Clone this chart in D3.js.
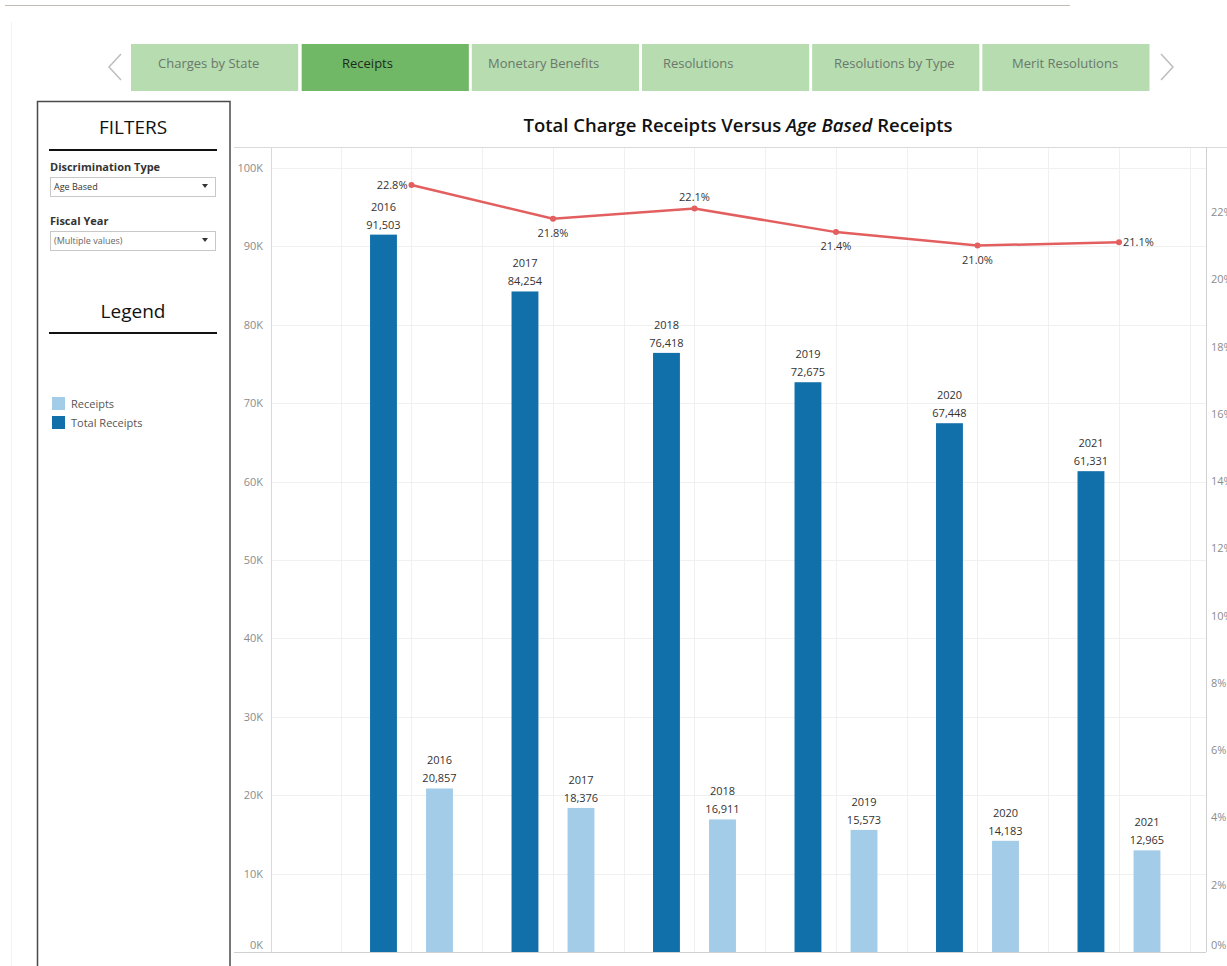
<!DOCTYPE html>
<html><head><meta charset="utf-8">
<script src="https://cdn.jsdelivr.net/npm/d3@7"></script>
<style>
html,body{margin:0;padding:0;background:#fff;}
svg{display:block;font-family:"Open Sans","Noto Sans",sans-serif;}
</style></head>
<body><svg id="c" width="1227" height="966"></svg>
<script>
// ---- data ----
const years = [2016, 2017, 2018, 2019, 2020, 2021];
const totalReceipts = [91503, 84254, 76418, 72675, 67448, 61331];
const ageReceipts = [20857, 18376, 16911, 15573, 14183, 12965];
const agePct = [22.8, 21.8, 22.1, 21.4, 21.0, 21.1];
const pctLabelPos = ["left", "below", "above", "below", "below", "right"];
const leftTicks = [0, 10000, 20000, 30000, 40000, 50000, 60000, 70000, 80000, 90000, 100000];
const rightTicks = [0, 2, 4, 6, 8, 10, 12, 14, 16, 18, 20, 22];
const navTabs = ["Charges by State", "Receipts", "Monetary Benefits", "Resolutions", "Resolutions by Type", "Merit Resolutions"];
const legendItems = [{name: "Receipts", color: "#a3cce9"}, {name: "Total Receipts", color: "#1170aa"}];

const svg = d3.select("#c");
svg.append("rect").attr("width", 1227).attr("height", 966).attr("fill", "#fff");

// top rule + faint left rule
svg.append("line").attr("x1", 5).attr("x2", 1070).attr("y1", 5.5).attr("y2", 5.5).attr("stroke", "#c4bcb4").attr("stroke-width", 1.2);
svg.append("line").attr("x1", 11.5).attr("x2", 11.5).attr("y1", 22).attr("y2", 966).attr("stroke", "#f2f2f2");

// ---- nav tabs ----
const navX = d3.scaleBand().domain(navTabs).range([130, 1151]).paddingInner(0.0);
const navTextX = [158, 342, 488, 663, 834, 1012];
navTabs.forEach((t, i) => {
  const x0 = navX(t) + (i === 0 ? 1 : 1.5);
  svg.append("rect").attr("x", x0).attr("y", 44).attr("width", navX.bandwidth() - 3).attr("height", 47)
    .attr("fill", t === "Receipts" ? "#70b865" : "#b6dcb0");
  svg.append("text").attr("x", navTextX[i]).attr("y", 68).attr("font-size", 13)
    .attr("font-family", "'Liberation Sans Narrow','Open Sans',sans-serif")
    .attr("fill", t === "Receipts" ? "#1e2a1e" : "#6b786b").text(t);
});
svg.append("path").attr("d", "M121,54 L109,67 L121,80").attr("fill", "none").attr("stroke", "#bdbdbd").attr("stroke-width", 1.5);
svg.append("path").attr("d", "M1161,54 L1173,67 L1161,80").attr("fill", "none").attr("stroke", "#bdbdbd").attr("stroke-width", 1.5);

// ---- filter panel ----
svg.append("rect").attr("x", 37.5).attr("y", 101.5).attr("width", 192.5).attr("height", 880).attr("fill", "none").attr("stroke", "#4a4a4a").attr("stroke-width", 1.5);
svg.append("text").attr("x", 133).attr("y", 134).attr("text-anchor", "middle").attr("font-size", 19).attr("fill", "#111").text("FILTERS");
svg.append("line").attr("x1", 49).attr("x2", 217).attr("y1", 150).attr("y2", 150).attr("stroke", "#111").attr("stroke-width", 2);
svg.append("text").attr("x", 50).attr("y", 171).attr("font-size", 11).attr("font-weight", "bold").attr("fill", "#333").text("Discrimination Type");
svg.append("rect").attr("x", 50.5).attr("y", 177.5).attr("width", 165).attr("height", 19).attr("fill", "#fff").attr("stroke", "#c8c8c8");
svg.append("text").attr("x", 54).attr("y", 190).attr("font-size", 9).attr("fill", "#333").text("Age Based");
svg.append("path").attr("d", "M202,184 L208,184 L205,188 Z").attr("fill", "#333");
svg.append("text").attr("x", 50).attr("y", 225).attr("font-size", 11).attr("font-weight", "bold").attr("fill", "#333").text("Fiscal Year");
svg.append("rect").attr("x", 50.5).attr("y", 231.5).attr("width", 165).attr("height", 19).attr("fill", "#fff").attr("stroke", "#c8c8c8");
svg.append("text").attr("x", 54).attr("y", 244).attr("font-size", 9).attr("fill", "#666").text("(Multiple values)");
svg.append("path").attr("d", "M202,238 L208,238 L205,242 Z").attr("fill", "#333");
svg.append("text").attr("x", 133).attr("y", 318).attr("text-anchor", "middle").attr("font-size", 19).attr("fill", "#111").text("Legend");
svg.append("line").attr("x1", 49).attr("x2", 217).attr("y1", 333).attr("y2", 333).attr("stroke", "#111").attr("stroke-width", 2);
legendItems.forEach((d, i) => {
  svg.append("rect").attr("x", 52).attr("y", 397 + i * 19).attr("width", 13).attr("height", 13).attr("fill", d.color);
  svg.append("text").attr("x", 71).attr("y", 408 + i * 19).attr("font-size", 11).attr("fill", "#555").text(d.name);
});

// ---- chart ----
const yTop = 147, yBot = 952, xL = 271, xR = 1206;
const x = d3.scaleLinear().domain([2015, 2021.615]).range([270, xR]);
const y = d3.scaleLinear().domain([0, 102680]).range([yBot, yTop]);
const yp = d3.scaleLinear().domain([0, 23.93]).range([yBot, yTop]);

svg.append("text").attr("x", 738).attr("y", 132).attr("text-anchor", "middle").attr("font-size", 18.5).attr("font-weight", 600).attr("fill", "#111")
  .call(t => {
    t.append("tspan").text("Total Charge Receipts Versus ");
    t.append("tspan").attr("font-style", "italic").text("Age Based");
    t.append("tspan").text(" Receipts");
  });

// grid
const g = svg.append("g");
g.selectAll(".hg").data(leftTicks.filter(d => d > 0)).join("line")
  .attr("x1", xL).attr("x2", xR).attr("y1", d => Math.round(y(d)) + 0.5).attr("y2", d => Math.round(y(d)) + 0.5).attr("stroke", "#f0f0f0");
const vg = d3.range(2015.5, 2021.6, 0.5);
g.selectAll(".vg").data(vg).join("line")
  .attr("x1", d => Math.round(x(d)) + 0.5).attr("x2", d => Math.round(x(d)) + 0.5).attr("y1", yTop).attr("y2", yBot).attr("stroke", "#f0f0f0");

// frame lines
svg.append("line").attr("x1", 234).attr("x2", 1227).attr("y1", yTop + 0.5).attr("y2", yTop + 0.5).attr("stroke", "#d9d9d9");
svg.append("line").attr("x1", 234).attr("x2", xR).attr("y1", yBot + 0.5).attr("y2", yBot + 0.5).attr("stroke", "#d0d0d0");
svg.append("line").attr("x1", xL + 0.5).attr("x2", xL + 0.5).attr("y1", yTop).attr("y2", yBot).attr("stroke", "#d9d9d9");
svg.append("line").attr("x1", xR + 0.5).attr("x2", xR + 0.5).attr("y1", yTop).attr("y2", yBot).attr("stroke", "#d0d0d0");

// axes
const leftAxis = d3.axisLeft(y).tickValues(leftTicks).tickSize(0).tickPadding(8).tickFormat(d => (d / 1000) + "K");
const la = svg.append("g").attr("transform", `translate(${xL},0)`).call(leftAxis);
la.select(".domain").remove();
la.selectAll("text").attr("font-size", 11).attr("fill", "#8c8c8c").attr("font-family", "'Open Sans',sans-serif")
  .attr("dy", d => d === 0 ? "-0.35em" : "0.32em");
const rightAxis = d3.axisRight(yp).tickValues(rightTicks).tickSize(0).tickPadding(5).tickFormat(d => d + "%");
const ra = svg.append("g").attr("transform", `translate(${xR},0)`).call(rightAxis);
ra.select(".domain").remove();
ra.selectAll("text").attr("font-size", 11).attr("fill", "#8c8c8c").attr("font-family", "'Open Sans',sans-serif")
  .attr("dy", d => d === 0 ? "-0.35em" : "0.32em");

// bars
const off = 0.198, bw = 0.19;
const bw_px = x(2016 + bw) - x(2016);
const fmt = d3.format(",");
function bars(vals, dx, color) {
  svg.append("g").selectAll("rect").data(years).join("rect")
    .attr("x", (d) => x(d + dx) - bw_px / 2).attr("width", bw_px)
    .attr("y", (d, i) => y(vals[i])).attr("height", (d, i) => y(0) - y(vals[i]))
    .attr("fill", color);
  const lg = svg.append("g").attr("font-size", 11).attr("fill", "#333").attr("text-anchor", "middle");
  lg.selectAll(".v").data(years).join("text")
    .attr("x", d => x(d + dx)).attr("y", (d, i) => y(vals[i]) - 6).text((d, i) => fmt(vals[i]));
  lg.selectAll(".yr").data(years).join("text")
    .attr("x", d => x(d + dx)).attr("y", (d, i) => y(vals[i]) - 24).text(d => d);
}
bars(totalReceipts, -off, "#1170aa");
bars(ageReceipts, off, "#a3cce9");

// line
const line = d3.line().x((d, i) => x(years[i])).y(d => yp(d));
svg.append("path").datum(agePct).attr("d", line).attr("fill", "none").attr("stroke", "#e35f5f").attr("stroke-width", 2.5);
svg.append("g").selectAll("circle").data(agePct).join("circle")
  .attr("cx", (d, i) => x(years[i])).attr("cy", d => yp(d)).attr("r", 3).attr("fill", "#e35f5f");
svg.append("g").attr("font-size", 11).attr("fill", "#333").selectAll("text").data(agePct).join("text")
  .attr("x", (d, i) => x(years[i]) + (pctLabelPos[i] === "left" ? -4 : pctLabelPos[i] === "right" ? 4 : 0))
  .attr("y", (d, i) => yp(d) + (pctLabelPos[i] === "above" ? -8 : pctLabelPos[i] === "below" ? 18 : 4))
  .attr("text-anchor", (d, i) => pctLabelPos[i] === "left" ? "end" : pctLabelPos[i] === "right" ? "start" : "middle")
  .text(d => d.toFixed(1) + "%");
</script></body></html>
